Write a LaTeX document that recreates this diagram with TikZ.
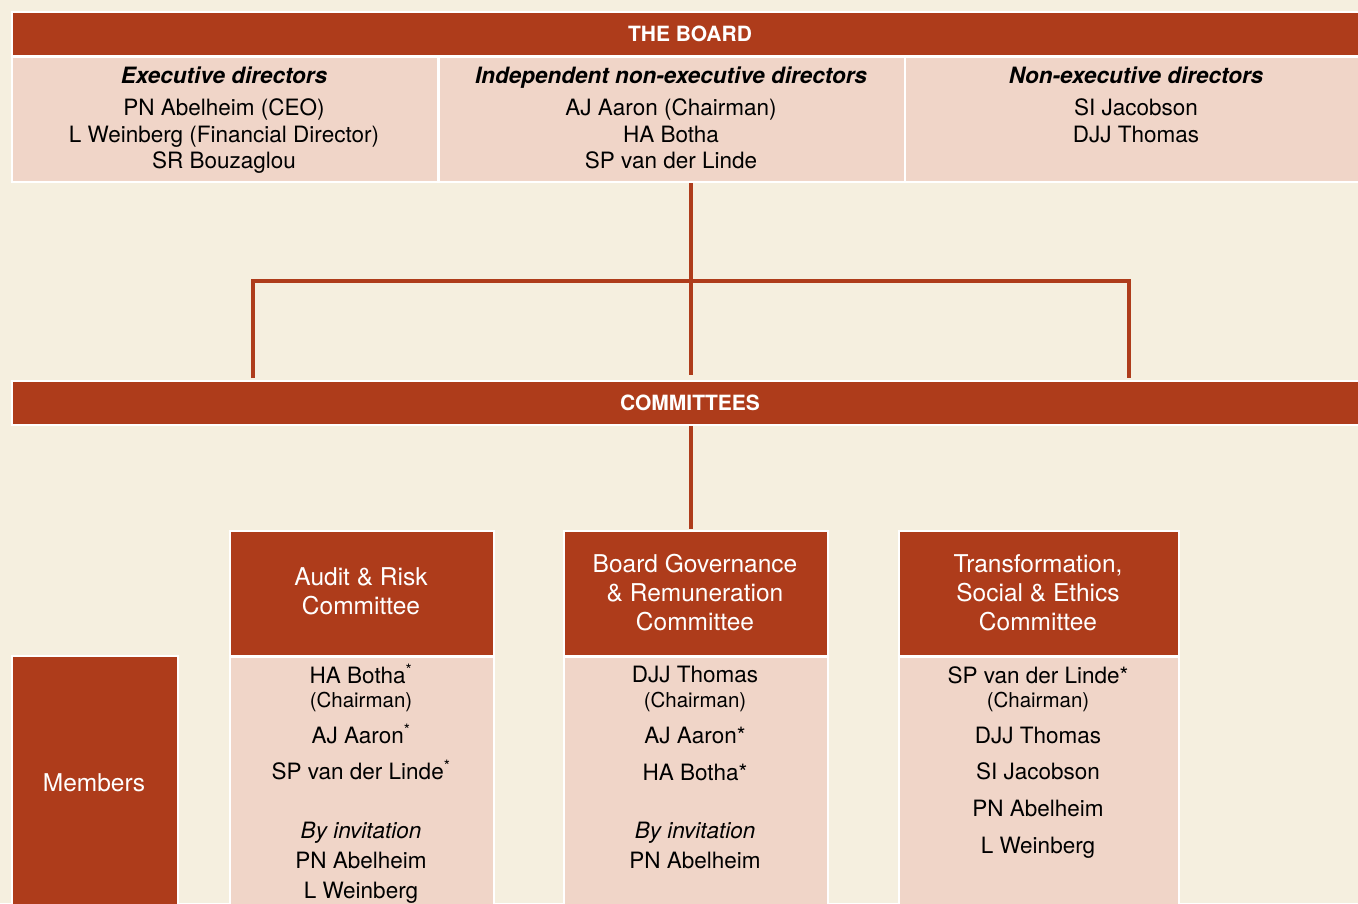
\documentclass[tikz,border=0pt]{standalone}
\usepackage{fontspec}
\setmainfont{TeX Gyre Heros}
\definecolor{redc}{HTML}{AE3C1B}
\definecolor{pinkc}{HTML}{F0D5C8}
\definecolor{creamc}{HTML}{F5EFDF}
\tikzset{
  bar/.style={fill=redc, draw=white, line width=2pt, inner sep=0pt, anchor=north west, minimum height=44pt},
  cell/.style={fill=pinkc, draw=white, line width=2pt, inner sep=0pt, anchor=north west},
  head/.style={fill=redc, draw=white, line width=2pt, inner sep=0pt, anchor=north west},
  conn/.style={draw=redc, line width=3.2pt},
  t/.style={anchor=base, inner sep=0pt, text=black, font=\fontsize{22.5}{27}\selectfont},
  th/.style={anchor=base, inner sep=0pt, text=black, font=\fontsize{22.5}{27}\selectfont\bfseries\itshape},
  tc/.style={anchor=base, inner sep=0pt, text=black, font=\fontsize{20.5}{24}\selectfont},
  tw/.style={anchor=base, inner sep=0pt, text=white, font=\fontsize{24.5}{29}\selectfont},
  tb/.style={anchor=base, inner sep=0pt, text=white, font=\fontsize{21}{25}\selectfont\bfseries},
}
\begin{document}
\begin{tikzpicture}[x=1pt,y=-1pt]
\useasboundingbox (0,0) rectangle (1358,903);
\clip (0,0) rectangle (1358,903);
\fill[creamc] (0,0) rectangle (1358,903);

% board
\node[bar, minimum width=1358pt] (board) at (11,11) {};
\node[tb] (boardt) at (690,41) {THE BOARD};
\node[cell, minimum width=426pt, minimum height=125pt] (c1) at (11,56) {};
\node[cell, minimum width=466pt, minimum height=125pt] (c2) at (438,56) {};
\node[cell, minimum width=460pt, minimum height=125pt] (c3) at (904,56) {};

\node[th] (c1h) at (224,83) {Executive directors};
\node[t] (c1a) at (224,115) {PN Abelheim (CEO)};
\node[t] (c1b) at (224,142) {L Weinberg (Financial Director)};
\node[t] (c1c) at (224,168) {SR Bouzaglou};

\node[th] (c2h) at (671,83) {Independent non-executive directors};
\node[t] (c2a) at (671,115) {AJ Aaron (Chairman)};
\node[t] (c2b) at (671,142) {HA Botha};
\node[t] (c2c) at (671,168) {SP van der Linde};

\node[th] (c3h) at (1136,83) {Non-executive directors};
\node[t] (c3a) at (1136,115) {SI Jacobson};
\node[t] (c3b) at (1136,142) {DJJ Thomas};

% connectors board -> committees
\coordinate (top) at (691,183);
\coordinate (bot) at (691,375);
\coordinate (L) at (253,281);
\coordinate (R) at (1129,281);
\coordinate (Lb) at (253,378);
\coordinate (Rb) at (1129,378);
\draw[conn] (top) -- (bot);
\draw[conn, line width=3.6pt] (Lb) -- (L) -- (R) -- (Rb);

% committees bar
\node[bar, minimum width=1358pt] (comm) at (11,380) {};
\node[tb] (commt) at (690,410) {COMMITTEES};

\coordinate (cs) at (691,426);
\coordinate (ce) at (691,529);
\draw[conn] (cs) -- (ce);

% committee heads
\node[head, minimum width=264pt, minimum height=125pt] (ah) at (229,530) {};
\node[head, minimum width=264pt, minimum height=125pt] (bh) at (563,530) {};
\node[head, minimum width=280pt, minimum height=125pt] (trh) at (898,530) {};
% bodies
\node[cell, minimum width=264pt, minimum height=270pt] (ab) at (229,656) {};
\node[cell, minimum width=264pt, minimum height=270pt] (bb) at (563,656) {};
\node[cell, minimum width=280pt, minimum height=270pt] (trb) at (898,656) {};
\node[head, minimum width=166pt, minimum height=270pt] (mem) at (11,655) {};
\node[tw] (memt) at (94,791) {Members};

% titles
\node[tw] (at1) at (361,585) {Audit \& Risk};
\node[tw] (at2) at (361,614) {Committee};
\node[tw] (bt1) at (695,572) {Board Governance};
\node[tw] (bt2) at (695,601) {\& Remuneration};
\node[tw] (bt3) at (695,630) {Committee};
\node[tw] (tt1) at (1038,572) {Transformation,};
\node[tw] (tt2) at (1038,601) {Social \& Ethics};
\node[tw] (tt3) at (1038,630) {Committee};

% audit body
\node[t] (a1) at (361,683) {HA Botha\textsuperscript{*}};
\node[tc] (a2) at (361,707) {(Chairman)};
\node[t] (a3) at (361,743) {AJ Aaron\textsuperscript{*}};
\node[t] (a4) at (361,779) {SP van der Linde\textsuperscript{*}};
\node[t, font=\fontsize{22.5}{27}\selectfont\itshape] (a5) at (361,838) {By invitation};
\node[t] (a6) at (361,868) {PN Abelheim};
\node[t] (a7) at (361,898) {L Weinberg};

% bg body
\node[t] (b1) at (695,682) {DJJ Thomas};
\node[tc] (b2) at (695,707) {(Chairman)};
\node[t] (b3) at (695,743) {AJ Aaron*};
\node[t] (b4) at (695,780) {HA Botha*};
\node[t, font=\fontsize{22.5}{27}\selectfont\itshape] (b5) at (695,838) {By invitation};
\node[t] (b6) at (695,868) {PN Abelheim};

% tr body
\node[t] (r1) at (1038,683) {SP van der Linde*};
\node[tc] (r2) at (1038,707) {(Chairman)};
\node[t] (r3) at (1038,743) {DJJ Thomas};
\node[t] (r4) at (1038,779) {SI Jacobson};
\node[t] (r5) at (1038,816) {PN Abelheim};
\node[t] (r6) at (1038,853) {L Weinberg};
\end{tikzpicture}
\end{document}
